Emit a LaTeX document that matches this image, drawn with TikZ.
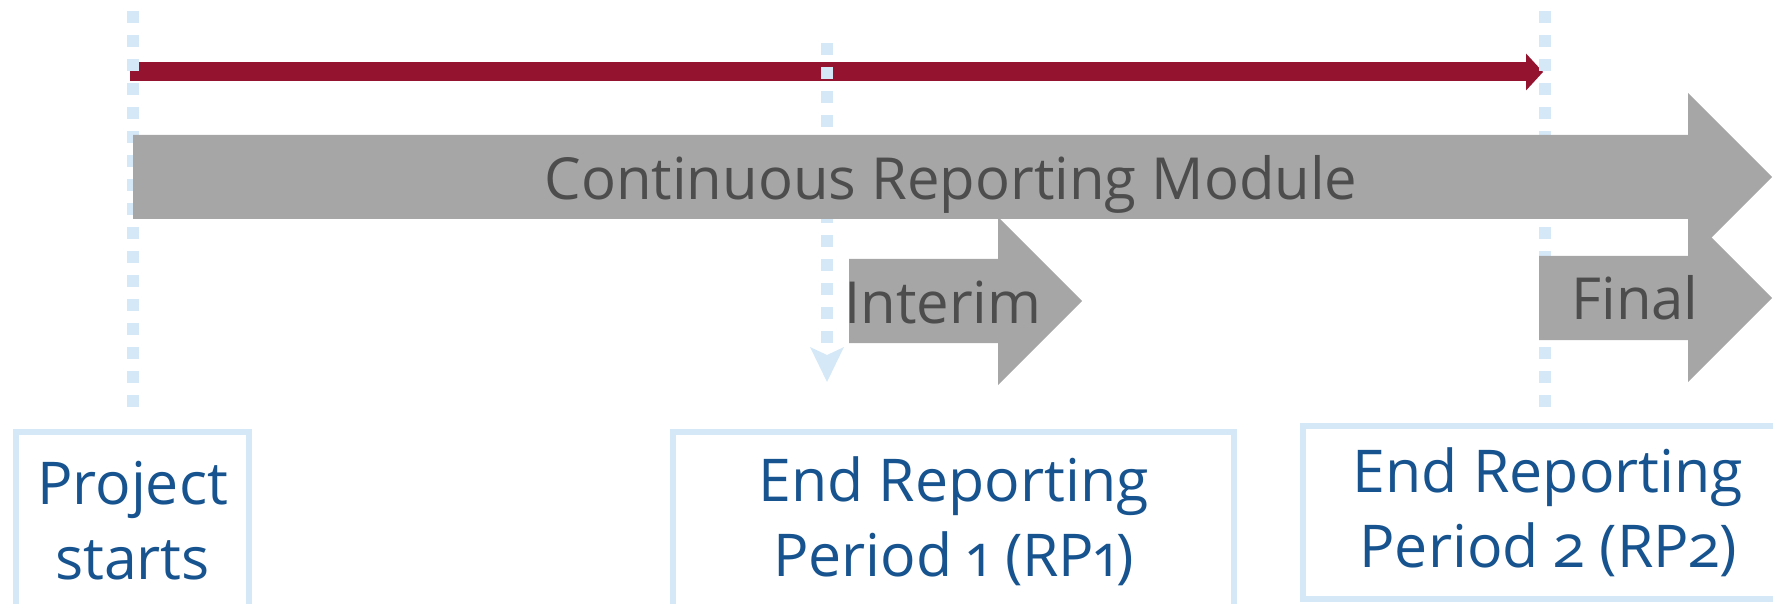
\documentclass[tikz,border=0pt]{standalone}
\usepackage{fontspec}
\setmainfont{Open Sans}
\newfontfamily\boxfont{Open Sans}[Numbers=OldStyle]
\usetikzlibrary{arrows.meta}
\definecolor{PlanRed}{HTML}{94142F}
\definecolor{PlanGrey}{HTML}{A6A6A6}
\definecolor{PlanText}{HTML}{4D4D4D}
\definecolor{PlanBlue}{HTML}{17548F}
\definecolor{PlanSky}{HTML}{D5E8F8}

\tikzset{
  milestone/.style={draw=PlanSky, line width=6pt, fill=white, align=center, text=PlanBlue,
    font=\boxfont\fontsize{59}{75}\selectfont, inner sep=0pt},
  marker/.style={draw=PlanSky, line width=12pt, dash pattern=on 12pt off 12pt},
  phase/.style={fill=PlanGrey},
  phaselabel/.style={text=PlanText, font=\fontsize{58}{70}\selectfont, inner sep=0pt, anchor=base},
}

\begin{document}
\begin{tikzpicture}[x=1pt, y=-1pt]
  \clip (0,0) rectangle (1773,604);

  % time line ends
  \coordinate (startTop) at (133,11);
  \coordinate (startFoot) at (133,407);
  \coordinate (rpOneTop) at (827,43);
  \coordinate (rpOneFoot) at (827,382);
  \coordinate (rpTwoTop) at (1545,11);
  \coordinate (rpTwoFoot) at (1545,407);
  \coordinate (runStart) at (130,72);
  \coordinate (runEnd) at (1543,72);

  % project duration
  \draw[PlanRed, line width=19pt, -{Triangle[length=17pt, width=37pt, line width=0pt]}] (runStart) -- (runEnd);

  % dotted markers
  \draw[marker] (startTop) -- (startFoot);
  \draw[marker, -{Stealth[length=35pt, width=34pt, inset=8pt, line width=0pt]}] (rpOneTop) -- (rpOneFoot);
  \draw[marker] (rpTwoTop) -- (rpTwoFoot);

  % reporting arrows
  \fill[phase] (133,135) -- (1688,135) -- (1688,93) -- (1772,177) -- (1688,261) -- (1688,219) -- (133,219) -- cycle;
  \fill[phase] (849,259) -- (998,259) -- (998,217) -- (1082,301) -- (998,385) -- (998,343) -- (849,343) -- cycle;
  \fill[phase] (1539,256) -- (1688,256) -- (1688,214) -- (1772,298) -- (1688,382) -- (1688,340) -- (1539,340) -- cycle;

  \node[phaselabel] (crm) at (951,200) {Continuous Reporting Module};
  \node[phaselabel] (interim) at (943,323) {Interim};
  \node[phaselabel] (final) at (1635,319) {Final};

  % milestones
  \node[milestone, minimum width=233pt, minimum height=178pt] (start) at (132.5,521) {Project\\starts};
  \node[milestone, minimum width=561pt, minimum height=178pt] (rpOne) at (953.5,521) {End Reporting\\Period 1 (RP1)};
  \node[milestone, minimum width=490pt, minimum height=173pt] (rpTwo) at (1548,512.5) {End Reporting\\Period 2 (RP2)};
\end{tikzpicture}
\end{document}
